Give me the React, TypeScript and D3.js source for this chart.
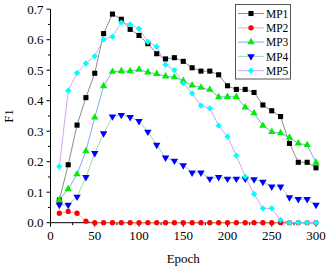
import React, { useEffect, useRef } from 'react';
import * as d3 from 'd3';

const epochs = [10, 20, 30, 40, 50, 60, 70, 80, 90, 100, 110, 120, 130, 140, 150, 160, 170, 180, 190, 200, 210, 220, 230, 240, 250, 260, 270, 280, 290, 300];

const mp1 = [0.074, 0.19, 0.32, 0.41, 0.49, 0.62, 0.684, 0.667, 0.634, 0.614, 0.587, 0.554, 0.537, 0.541, 0.529, 0.508, 0.497, 0.497, 0.485, 0.449, 0.437, 0.437, 0.427, 0.386, 0.367, 0.348, 0.26, 0.198, 0.198, 0.18];
const mp2 = [0.031, 0.037, 0.031, 0.005, 0, 0, 0, 0, 0, 0, 0, 0, 0, 0, 0, 0, 0, 0, 0, 0, 0, 0, 0, 0, 0, 0, 0, 0, 0, 0];
const mp3 = [0.075, 0.11, 0.159, 0.235, 0.345, 0.448, 0.495, 0.497, 0.497, 0.502, 0.493, 0.488, 0.48, 0.477, 0.465, 0.45, 0.443, 0.436, 0.412, 0.413, 0.413, 0.378, 0.359, 0.318, 0.298, 0.294, 0.279, 0.26, 0.255, 0.197];
const mp4 = [0.058, 0.058, 0.085, 0.149, 0.228, 0.293, 0.348, 0.353, 0.346, 0.333, 0.298, 0.255, 0.213, 0.203, 0.188, 0.164, 0.164, 0.144, 0.149, 0.144, 0.144, 0.144, 0.142, 0.134, 0.118, 0.118, 0.083, 0.077, 0.077, 0.058];
const mp5 = [0.184, 0.433, 0.491, 0.522, 0.546, 0.601, 0.61, 0.656, 0.65, 0.636, 0.593, 0.577, 0.518, 0.5, 0.457, 0.424, 0.384, 0.375, 0.318, 0.282, 0.22, 0.151, 0.094, 0.047, 0.047, 0.009, 0, 0, 0, 0];

const seriesNames = ['MP1', 'MP2', 'MP3', 'MP4', 'MP5'];
const seriesValues = [mp1, mp2, mp3, mp4, mp5];
const markerColors = ['#000000', '#ff0000', '#00ee00', '#0000ff', '#00ffff'];
const lineColors = ['#808080', '#ff9a9a', '#6f9ef0', '#8fd8a8', '#cc9cf0'];

const xTicks = [0, 50, 100, 150, 200, 250, 300];
const yTicks = [0, 0.1, 0.2, 0.3, 0.4, 0.5, 0.6, 0.7];

const FONT = 'Liberation Serif, Times New Roman, serif';

function symbolFor(i: number) {
  if (i === 0) return d3.symbol(d3.symbolSquare, 26)();
  if (i === 1) return d3.symbol(d3.symbolCircle, 22)();
  if (i === 2) return d3.symbol(d3.symbolTriangle, 24)();
  if (i === 3) return d3.symbol(d3.symbolTriangle, 24)();
  return d3.symbol(d3.symbolSquare, 20)();
}
function symbolTransform(i: number) {
  if (i === 3) return ' rotate(180)';
  if (i === 4) return ' rotate(45)';
  return '';
}

const App: React.FC = () => {
  const ref = useRef<SVGSVGElement | null>(null);

  useEffect(() => {
    if (!ref.current) return;
    const svg = d3.select(ref.current);
    svg.selectAll('*').remove();

    const x = d3.scaleLinear().domain([0, 300]).range([50.5, 316]);
    const y = d3.scaleLinear().domain([0, 0.7]).range([222.7, 9.2]);

    // axes
    const xAxis = svg.append('g').attr('transform', 'translate(0,222.7)');
    xAxis.append('line').attr('x1', x(0)).attr('x2', x(300)).attr('stroke', '#000');
    d3.range(0, 301, 25).forEach(v => {
      const major = v % 50 === 0;
      xAxis.append('line').attr('x1', x(v)).attr('x2', x(v)).attr('y1', 0).attr('y2', major ? 4 : 2.5).attr('stroke', '#000');
    });
    xTicks.forEach(v => {
      xAxis.append('text').attr('x', x(v)).attr('y', 17).attr('text-anchor', 'middle')
        .attr('font-family', FONT).attr('font-size', 13).text(String(v));
    });

    const yAxis = svg.append('g');
    yAxis.append('line').attr('x1', x(0)).attr('x2', x(0)).attr('y1', y(0)).attr('y2', y(0.7)).attr('stroke', '#000');
    d3.range(0, 15).forEach(k => {
      const v = k * 0.05;
      const major = k % 2 === 0;
      yAxis.append('line').attr('x1', x(0) - (major ? 4 : 2.5)).attr('x2', x(0)).attr('y1', y(v)).attr('y2', y(v)).attr('stroke', '#000');
    });
    yTicks.forEach(v => {
      yAxis.append('text').attr('x', 43.5).attr('y', y(v) + 4.5).attr('text-anchor', 'end')
        .attr('font-family', FONT).attr('font-size', 13).text(v.toFixed(1));
    });

    svg.append('text').attr('x', x(150)).attr('y', 263).attr('text-anchor', 'middle')
      .attr('font-family', FONT).attr('font-size', 13).text('Epoch');
    svg.append('text').attr('transform', 'translate(13,116) rotate(-90)').attr('text-anchor', 'middle')
      .attr('font-family', FONT).attr('font-size', 13).text('F1');

    // series
    seriesValues.forEach((vals, i) => {
      const line = d3.line<number>().x((_, j) => x(epochs[j])).y(d => y(d));
      svg.append('path').datum(vals).attr('d', line).attr('fill', 'none')
        .attr('stroke', lineColors[i]).attr('stroke-width', 0.9);
    });
    seriesValues.forEach((vals, i) => {
      svg.append('g').selectAll('path').data(vals).join('path')
        .attr('d', symbolFor(i))
        .attr('transform', (d, j) => `translate(${x(epochs[j])},${y(d)})${symbolTransform(i)}`)
        .attr('fill', markerColors[i]);
    });

    // legend
    const lg = svg.append('g');
    lg.append('rect').attr('x', 235.5).attr('y', 4.5).attr('width', 55).attr('height', 74.5)
      .attr('fill', '#fff').attr('stroke', '#555').attr('stroke-width', 1);
    seriesNames.forEach((name, i) => {
      const cy = 13.5 + i * 14.3;
      lg.append('line').attr('x1', 238).attr('x2', 264).attr('y1', cy).attr('y2', cy)
        .attr('stroke', lineColors[i]).attr('stroke-width', 0.9);
      lg.append('path').attr('d', symbolFor(i))
        .attr('transform', `translate(251,${cy})${symbolTransform(i)}`).attr('fill', markerColors[i]);
      lg.append('text').attr('x', 266).attr('y', cy + 4.2).attr('font-family', FONT).attr('font-size', 11.5).text(name);
    });
  }, []);

  return (
    <svg ref={ref} width={327} height={267}
      style={{ position: 'absolute', left: 0, top: 0, background: '#fff' }} />
  );
};

export default App;
